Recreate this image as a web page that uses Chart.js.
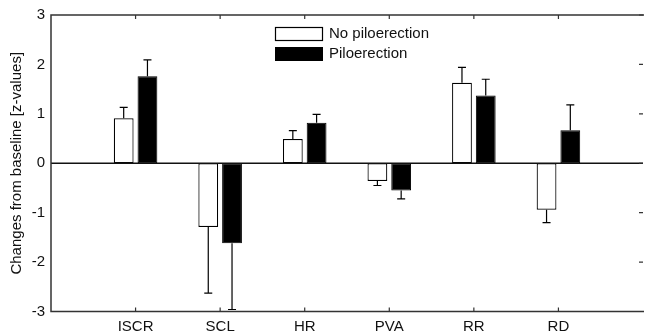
<!DOCTYPE html>
<html lang="en">
<head>
    <meta charset="UTF-8">
    <title>Changes from baseline</title>
    <script src="https://cdn.jsdelivr.net/npm/chart.js@4.4.1/dist/chart.umd.min.js"></script>
    <style>
        html, body { margin: 0; padding: 0; background: #fff; }
        #wrap { width: 649px; height: 335px; position: relative; }
    </style>
</head>
<body>
    <div id="wrap"><canvas id="chart"></canvas></div>

    <script>
        // data
        const categories = ['ISCR', 'SCL', 'HR', 'PVA', 'RR', 'RD'];
        const seriesNames = ['No piloerection', 'Piloerection'];
        const noPilo = [0.91, -1.29, 0.49, -0.36, 1.63, -0.94];
        const noPiloErr = [0.22, 1.34, 0.17, 0.09, 0.31, 0.26];
        const pilo = [1.76, -1.62, 0.82, -0.55, 1.37, 0.67];
        const piloErr = [0.33, 1.34, 0.17, 0.17, 0.33, 0.51];
        const yTicks = [-3, -2, -1, 0, 1, 2, 3];

        // empty slots at both ends so the categories sit at 1..6 of 0..7
        const labels = [''].concat(categories, ['']);
        const pad = arr => [null].concat(arr, [null]);

        const FONT = "'Liberation Sans', Arial, sans-serif";

        // box, zero line, inward ticks, error bars and legend
        const matlabAxes = {
            id: 'matlabAxes',
            afterDatasetsDraw(chart) {
                const ctx = chart.ctx;
                const a = chart.chartArea;
                const x = chart.scales.x;
                const y = chart.scales.y;
                ctx.save();

                // error bars
                ctx.strokeStyle = '#000';
                ctx.lineWidth = 1.2;
                const errs = [noPiloErr, piloErr];
                chart.data.datasets.forEach((ds, di) => {
                    const meta = chart.getDatasetMeta(di);
                    meta.data.forEach((bar, i) => {
                        const v = ds.data[i];
                        if (v === null) return;
                        const e = errs[di][i - 1];
                        const end = v >= 0 ? v + e : v - e;
                        const py0 = y.getPixelForValue(v);
                        const py1 = y.getPixelForValue(end);
                        ctx.beginPath();
                        ctx.moveTo(bar.x, py0);
                        ctx.lineTo(bar.x, py1);
                        ctx.moveTo(bar.x - 4, py1);
                        ctx.lineTo(bar.x + 4, py1);
                        ctx.stroke();
                    });
                });

                // zero line
                ctx.strokeStyle = '#111';
                ctx.lineWidth = 1.5;
                const y0 = y.getPixelForValue(0);
                ctx.beginPath();
                ctx.moveTo(a.left, y0);
                ctx.lineTo(a.right, y0);
                ctx.stroke();

                // frame
                ctx.strokeStyle = '#333';
                ctx.lineWidth = 1.5;
                ctx.beginPath();
                ctx.moveTo(a.right + 1, a.top);
                ctx.lineTo(a.left, a.top);
                ctx.lineTo(a.left, a.bottom);
                ctx.lineTo(a.right + 1, a.bottom);
                ctx.stroke();

                // inward ticks
                ctx.lineWidth = 1.2;
                ctx.beginPath();
                for (let i = 1; i <= categories.length; i++) {
                    const px = x.getPixelForValue(i);
                    ctx.moveTo(px, a.top);
                    ctx.lineTo(px, a.top + 4);
                    ctx.moveTo(px, a.bottom);
                    ctx.lineTo(px, a.bottom - 4);
                }
                yTicks.forEach(t => {
                    const py = y.getPixelForValue(t);
                    ctx.moveTo(a.right, py);
                    ctx.lineTo(a.right - 4, py);
                });
                ctx.stroke();

                // legend
                const lx = 275, ly = 27;
                ctx.lineWidth = 1.2;
                ctx.fillStyle = '#fff';
                ctx.strokeStyle = '#000';
                ctx.fillRect(lx, ly, 48, 14);
                ctx.strokeRect(lx + 0.5, ly + 0.5, 47, 13);
                ctx.fillStyle = '#000';
                ctx.fillRect(lx, ly + 20, 48, 14);
                ctx.font = '15px ' + FONT;
                ctx.textBaseline = 'middle';
                ctx.fillStyle = '#111';
                ctx.fillText(seriesNames[0], lx + 54, ly + 7);
                ctx.fillText(seriesNames[1], lx + 54, ly + 27);

                ctx.restore();
            }
        };

        new Chart(document.getElementById('chart'), {
            type: 'bar',
            data: {
                labels: labels,
                datasets: [{
                    label: seriesNames[0],
                    data: pad(noPilo),
                    backgroundColor: '#fff',
                    borderColor: '#000',
                    borderWidth: 1.2,
                    borderSkipped: false
                }, {
                    label: seriesNames[1],
                    data: pad(pilo),
                    backgroundColor: '#000',
                    borderColor: '#000',
                    borderWidth: 1,
                    borderSkipped: false
                }]
            },
            options: {
                responsive: true,
                maintainAspectRatio: false,
                animation: false,
                categoryPercentage: 0.562,
                barPercentage: 0.833,
                layout: { padding: { top: 14, right: 0, bottom: 0, left: 0 } },
                plugins: {
                    legend: { display: false },
                    tooltip: { enabled: false }
                },
                scales: {
                    x: {
                        offset: false,
                        grid: { display: false, drawTicks: false },
                        border: { display: false },
                        ticks: {
                            autoSkip: false,
                            maxRotation: 0,
                            padding: 6,
                            color: '#111',
                            font: { family: FONT, size: 15 }
                        },
                        afterFit(scale) { scale.height = 23.5; }
                    },
                    y: {
                        min: -3,
                        max: 3,
                        grid: { display: false, drawTicks: false },
                        border: { display: false },
                        ticks: {
                            stepSize: 1,
                            padding: 6,
                            color: '#111',
                            font: { family: FONT, size: 15 }
                        },
                        title: {
                            display: true,
                            text: 'Changes from baseline [z-values]',
                            color: '#111',
                            font: { family: FONT, size: 15 },
                            padding: { top: 8, bottom: 0 }
                        },
                        afterFit(scale) { scale.width = 51; }
                    }
                }
            },
            plugins: [matlabAxes]
        });
    </script>
</body>
</html>
